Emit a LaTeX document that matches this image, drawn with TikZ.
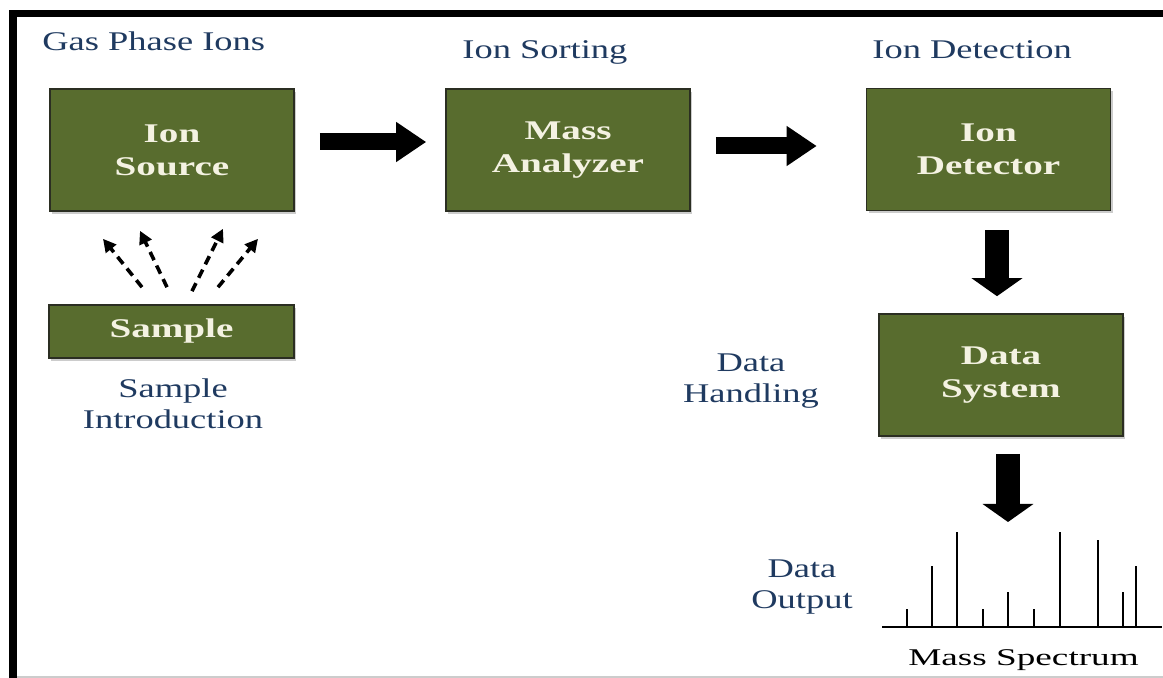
\documentclass[tikz,border=0pt]{standalone}
\usepackage{fontspec}
\setmainfont{Liberation Serif}[FakeStretch=1.35]
\newfontfamily\boxfont{Liberation Serif}[FakeStretch=1.45]
\newfontfamily\specfont{Liberation Serif}[FakeStretch=1.55]
\usetikzlibrary{arrows.meta,shadows,calc}
\definecolor{msOlive}{HTML}{586C2E}
\definecolor{msEdge}{HTML}{2B2E22}
\definecolor{msCream}{HTML}{F4F2E2}
\definecolor{msBlue}{HTML}{1F3A60}
\tikzset{
  msUnit/.style={
    draw=msEdge,
    line width=0.8pt,
    fill=msOlive,
    text=msCream,
    align=center,
    minimum width=122pt,
    minimum height=61pt,
    inner sep=0pt,
    font=\boxfont\bfseries\fontsize{13.5}{16.5}\selectfont,
    drop shadow={shadow xshift=1pt, shadow yshift=-1.5pt, fill=black!40}
  },
  msStage/.style={
    text=msBlue,
    align=center,
    inner sep=0pt,
    font=\fontsize{13.5}{15.3}\selectfont
  },
  msFlow/.style={line width=8.5pt, draw=black, -{Triangle[length=15pt,width=19pt]}},
  msDrop/.style={line width=12pt, draw=black, -{Triangle[length=9pt,width=25pt]}},
  msIon/.style={line width=1.8pt, dash pattern=on 4.5pt off 3pt, -{Triangle[length=6.5pt,width=6.5pt]}},
  msPeak/.style={line width=1.3pt}
}

\begin{document}
\begin{tikzpicture}[x=0.5pt, y=-0.5pt]
  \useasboundingbox (0,0) rectangle (1163,678);
  % frame
  \fill[black] (9,10) rectangle (1163,17);
  \fill[black] (9,10) rectangle (17,678);
  \draw[black!20, line width=0.8pt] (17,677) -- (1163,677);

  % instrument blocks
  \node[msUnit] (src) at (172,150) {Ion\\Source};
  \node[msUnit] (ana) at (568,150) {Mass\\Analyzer};
  \node[msUnit] (det) at (988.5,149.5) {Ion\\Detector};
  \node[msUnit] (sys) at (1001,375) {Data\\System};
  \node[msUnit, minimum width=122.5pt, minimum height=26.5pt] (smp) at (171.5,331.5) {Sample};

  % stage captions
  \node[msStage, anchor=base west] (capIons) at (42,51) {Gas Phase Ions};
  \node[msStage, anchor=base west] (capSort) at (462,59) {Ion Sorting};
  \node[msStage, anchor=base west] (capDet) at (872,59) {Ion Detection};
  \node[msStage] (capIntro) at (173,404) {Sample\\Introduction};
  \node[msStage] (capHandle) at (751,381) {Data\\Handling};
  \node[msStage] (capOut) at (802,587) {Data\\Output};

  % main flow
  \draw[msFlow] ([shift={(25,-8)}]src.east) -- ([shift={(-19,-8)}]ana.west);
  \draw[msFlow] ([shift={(25,-4)}]ana.east) -- ([shift={(-49,-3.5)}]det.west);
  \draw[msDrop] ([shift={(8.5,19)}]det.south) -- ([shift={(-4,-17)}]sys.north);
  \coordinate (specTop) at (1008,522);
  \draw[msDrop] ([shift={(7,17)}]sys.south) -- (specTop);

  % ions leaving the sample
  \draw[msIon] ([shift={(-29.5,-17)}]smp.north) -- ([shift={(-69,27)}]src.south);
  \draw[msIon] ([shift={(-4.5,-17)}]smp.north) -- ([shift={(-32,19)}]src.south);
  \draw[msIon] ([shift={(20.5,-13)}]smp.north) -- ([shift={(51,17)}]src.south);
  \draw[msIon] ([shift={(46.5,-17)}]smp.north) -- ([shift={(86,27)}]src.south);

  % spectrum
  \draw[line width=1pt] (882,627) -- (1162,627);
  \foreach \px/\py in {907/609,932/566,957/532,983/609,1008/592,1034/609,1060/532,1098/540,1123/592,1136/566}
    \draw[msPeak] (\px,627) -- (\px,\py);
  \node[anchor=base west, inner sep=0pt, font=\specfont\fontsize{12}{14}\selectfont] (specName) at (908,666) {Mass Spectrum};
\end{tikzpicture}
\end{document}
